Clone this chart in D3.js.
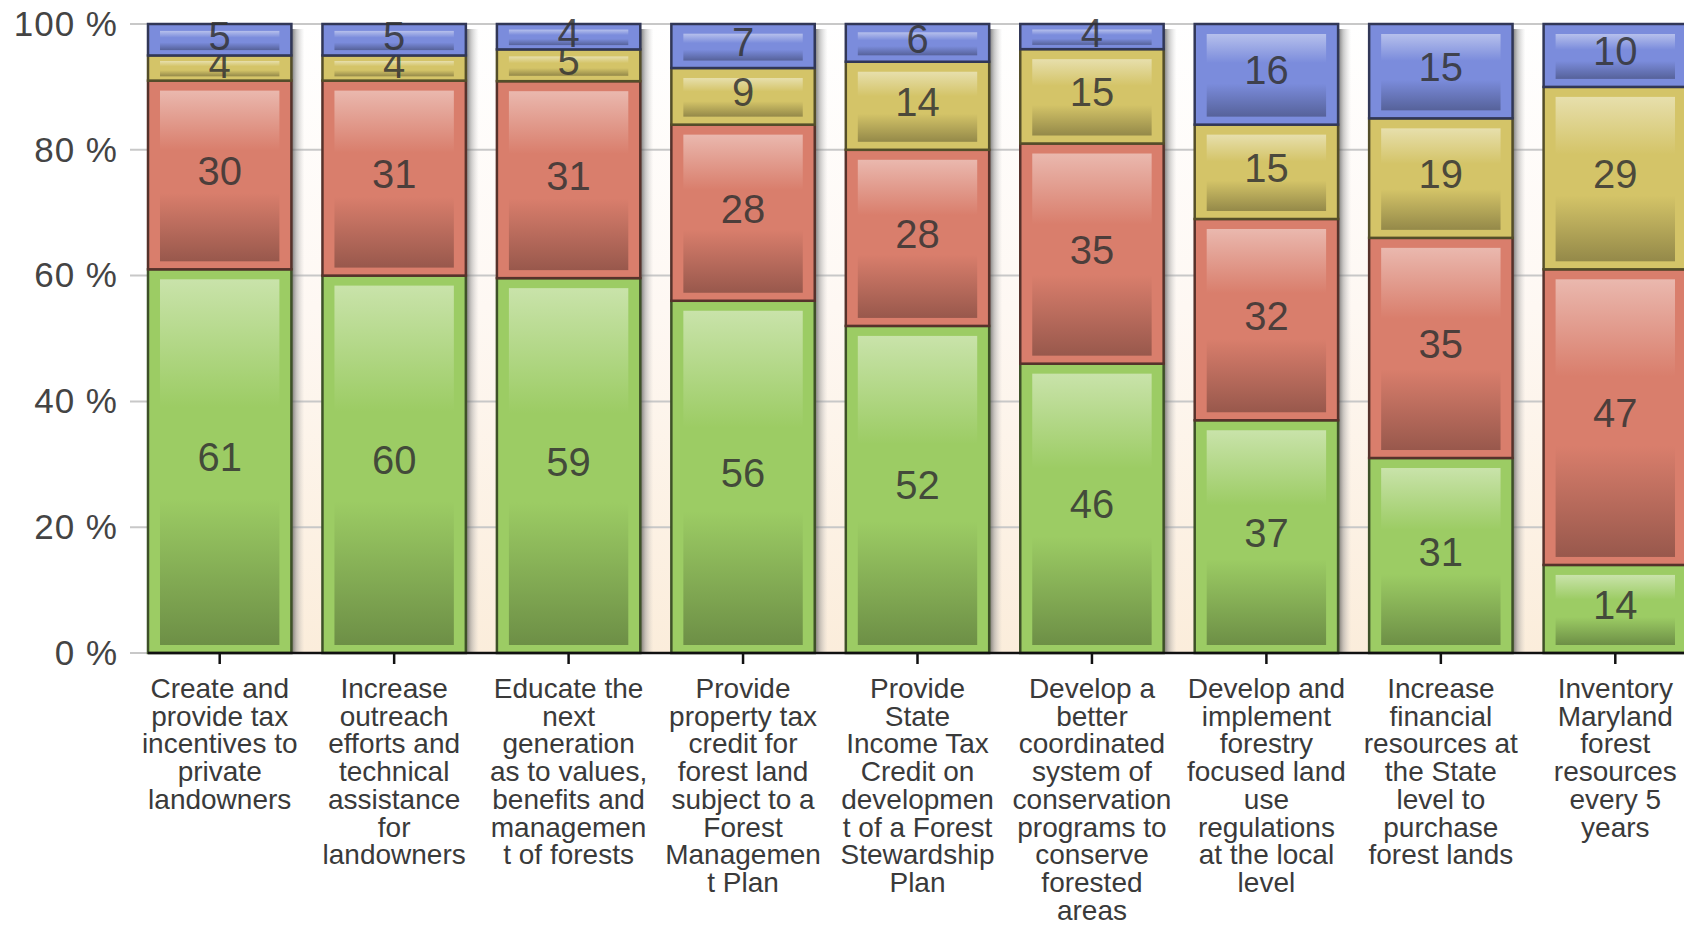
<!DOCTYPE html>
<html>
<head>
<meta charset="utf-8">
<script src="https://cdn.jsdelivr.net/npm/d3@7"></script>
<style>
  body { margin: 0; background: #fff; }
  text { font-family: "Liberation Sans", Arial, sans-serif; }
</style>
</head>
<body>
<svg id="chart" width="1684" height="925"></svg>
<script>
var categories = [
  "Create and provide tax incentives to private landowners",
  "Increase outreach efforts and technical assistance for landowners",
  "Educate the next generation as to values, benefits and management of forests",
  "Provide property tax credit for forest land subject to a Forest Management Plan",
  "Provide State Income Tax Credit on development of a Forest Stewardship Plan",
  "Develop a better coordinated system of conservation programs to conserve forested areas",
  "Develop and implement forestry focused land use regulations at the local level",
  "Increase financial resources at the State level to purchase forest lands",
  "Inventory Maryland forest resources every 5 years"
];
// tick labels as wrapped in the original
var labelLines = [
  ["Create and", "provide tax", "incentives to", "private", "landowners"],
  ["Increase", "outreach", "efforts and", "technical", "assistance", "for", "landowners"],
  ["Educate the", "next", "generation", "as to values,", "benefits and", "managemen", "t of forests"],
  ["Provide", "property tax", "credit for", "forest land", "subject to a", "Forest", "Managemen", "t Plan"],
  ["Provide", "State", "Income Tax", "Credit on", "developmen", "t of a Forest", "Stewardship", "Plan"],
  ["Develop a", "better", "coordinated", "system of", "conservation", "programs to", "conserve", "forested", "areas"],
  ["Develop and", "implement", "forestry", "focused land", "use", "regulations", "at the local", "level"],
  ["Increase", "financial", "resources at", "the State", "level to", "purchase", "forest lands"],
  ["Inventory", "Maryland", "forest", "resources", "every 5", "years"]
];
var greenValues  = [61, 60, 59, 56, 52, 46, 37, 31, 14];
var redValues    = [30, 31, 31, 28, 28, 35, 32, 35, 47];
var yellowValues = [4, 4, 5, 9, 14, 15, 15, 19, 29];
var blueValues   = [5, 5, 4, 7, 6, 4, 16, 15, 10];
var seriesKeys = ["green", "red", "yellow", "blue"];
var seriesColors = ["#9ccc64", "#d97e6c", "#d4c468", "#7b8cdc"];
var yTicks = [0, 0.2, 0.4, 0.6, 0.8, 1];

var rows = categories.map(function(c, i){
  return {cat: c, green: greenValues[i], red: redValues[i], yellow: yellowValues[i], blue: blueValues[i]};
});

var svg = d3.select("#chart");
var W = 1684, TOP = 24, BOTTOM = 653, LEFT = 148;

var x = d3.scaleBand()
  .domain(categories)
  .range([LEFT, 1687])
  .paddingInner(0.178)
  .paddingOuter(0);

var y = d3.scaleLinear()
  .domain([0, 1])
  .range([BOTTOM, TOP]);

var color = d3.scaleOrdinal().domain(seriesKeys).range(seriesColors);

var stack = d3.stack().keys(seriesKeys).offset(d3.stackOffsetExpand);
var layers = stack(rows);

var defs = svg.append("defs");

var bg = defs.append("linearGradient").attr("id", "bg-grad")
  .attr("x1", 0).attr("y1", 0).attr("x2", 0).attr("y2", 1);
bg.append("stop").attr("offset", "0%").attr("stop-color", "#ffffff");
bg.append("stop").attr("offset", "45%").attr("stop-color", "#fef8f3");
bg.append("stop").attr("offset", "100%").attr("stop-color", "#fbeddb");

var sh = defs.append("linearGradient").attr("id", "shadow-grad")
  .attr("x1", 0).attr("y1", 0).attr("x2", 1).attr("y2", 0);
sh.append("stop").attr("offset", "0%").attr("stop-color", "#444").attr("stop-opacity", 0.75);
sh.append("stop").attr("offset", "40%").attr("stop-color", "#888").attr("stop-opacity", 0.45);
sh.append("stop").attr("offset", "100%").attr("stop-color", "#bbb").attr("stop-opacity", 0);

seriesKeys.forEach(function(k){
  var base = color(k);
  var g = defs.append("linearGradient").attr("id", "grad-" + k)
    .attr("x1", 0).attr("y1", 0).attr("x2", 0).attr("y2", 1);
  g.append("stop").attr("offset", "0%").attr("stop-color", d3.interpolateRgb(base, "#fff")(0.45));
  g.append("stop").attr("offset", "35%").attr("stop-color", base);
  g.append("stop").attr("offset", "60%").attr("stop-color", base);
  g.append("stop").attr("offset", "100%").attr("stop-color", d3.interpolateRgb(base, "#000")(0.3));
});

// plot background
svg.append("rect")
  .attr("x", LEFT).attr("y", TOP)
  .attr("width", W - LEFT).attr("height", BOTTOM - TOP)
  .attr("fill", "url(#bg-grad)");

// gridlines
svg.selectAll(".grid")
  .data(yTicks)
  .enter()
  .append("line")
  .attr("class", "grid")
  .attr("x1", 130).attr("x2", W)
  .attr("y1", d => y(d)).attr("y2", d => y(d))
  .attr("stroke", "#c8c8c8")
  .attr("stroke-width", 2);

// y axis labels
var yAxis = svg.append("g")
  .attr("transform", "translate(" + LEFT + ",0)")
  .call(d3.axisLeft(y).tickValues(yTicks).tickSize(0).tickPadding(30)
    .tickFormat(d => Math.round(d * 100) + " %"));
yAxis.select(".domain").remove();
yAxis.selectAll("text")
  .attr("font-size", "35px")
  .attr("letter-spacing", "1px")
  .attr("fill", "#444")
  .attr("font-family", "Liberation Sans, Arial, sans-serif");

// bar shadows
svg.selectAll(".shadow")
  .data(rows)
  .enter()
  .append("rect")
  .attr("class", "shadow")
  .attr("x", d => x(d.cat) + x.bandwidth())
  .attr("y", TOP + 5)
  .attr("width", 13)
  .attr("height", BOTTOM - TOP - 5)
  .attr("fill", "url(#shadow-grad)");

// segments
var layer = svg.selectAll(".layer")
  .data(layers)
  .enter()
  .append("g")
  .attr("class", "layer");

layer.selectAll(".seg")
  .data(function(L){ return L.map(function(p){ return {key: L.key, p: p}; }); })
  .enter()
  .append("rect")
  .attr("class", "seg")
  .attr("x", d => x(d.p.data.cat))
  .attr("y", d => y(d.p[1]))
  .attr("width", x.bandwidth())
  .attr("height", d => y(d.p[0]) - y(d.p[1]))
  .attr("fill", d => color(d.key))
  .attr("stroke", d => d3.color(color(d.key)).darker(2.6))
  .attr("stroke-width", 2.5);

layer.selectAll(".inner")
  .data(function(L){ return L.map(function(p){ return {key: L.key, p: p}; }); })
  .enter()
  .append("rect")
  .attr("class", "inner")
  .attr("x", d => x(d.p.data.cat) + 12)
  .attr("y", function(d){
    var h = y(d.p[0]) - y(d.p[1]);
    return y(d.p[1]) + Math.min(10, h * 0.22);
  })
  .attr("width", x.bandwidth() - 24)
  .attr("height", function(d){
    var h = y(d.p[0]) - y(d.p[1]);
    return Math.max(0, h - Math.min(10, h * 0.22) - Math.min(8, h * 0.17));
  })
  .attr("fill", d => "url(#grad-" + d.key + ")");

// value labels
layer.selectAll(".val")
  .data(function(L){ return L.map(function(p){ return {key: L.key, p: p}; }); })
  .enter()
  .append("text")
  .attr("class", "val")
  .attr("x", d => x(d.p.data.cat) + x.bandwidth() / 2)
  .attr("y", d => (y(d.p[0]) + y(d.p[1])) / 2 - 4)
  .attr("text-anchor", "middle")
  .attr("dominant-baseline", "central")
  .attr("font-size", "40px")
  .attr("fill", "#333")
  .attr("fill-opacity", 0.85)
  .text(d => d.p.data[d.key]);

// x axis
svg.append("line")
  .attr("x1", LEFT).attr("x2", W)
  .attr("y1", BOTTOM).attr("y2", BOTTOM)
  .attr("stroke", "#111").attr("stroke-width", 2.5);

svg.selectAll(".xtick")
  .data(categories)
  .enter()
  .append("line")
  .attr("class", "xtick")
  .attr("x1", d => x(d) + x.bandwidth() / 2)
  .attr("x2", d => x(d) + x.bandwidth() / 2)
  .attr("y1", BOTTOM).attr("y2", BOTTOM + 11)
  .attr("stroke", "#111").attr("stroke-width", 2.5);

var catText = svg.selectAll(".cat")
  .data(categories)
  .enter()
  .append("text")
  .attr("class", "cat")
  .attr("x", d => x(d) + x.bandwidth() / 2)
  .attr("y", 698)
  .attr("text-anchor", "middle")
  .attr("font-size", "28px")
  .attr("fill", "#3a3a3a");

catText.each(function(d, i){
  var t = d3.select(this);
  labelLines[i].forEach(function(line, j){
    t.append("tspan")
      .attr("x", x(d) + x.bandwidth() / 2)
      .attr("dy", j === 0 ? 0 : 27.7)
      .text(line);
  });
});
</script>
</body>
</html>
